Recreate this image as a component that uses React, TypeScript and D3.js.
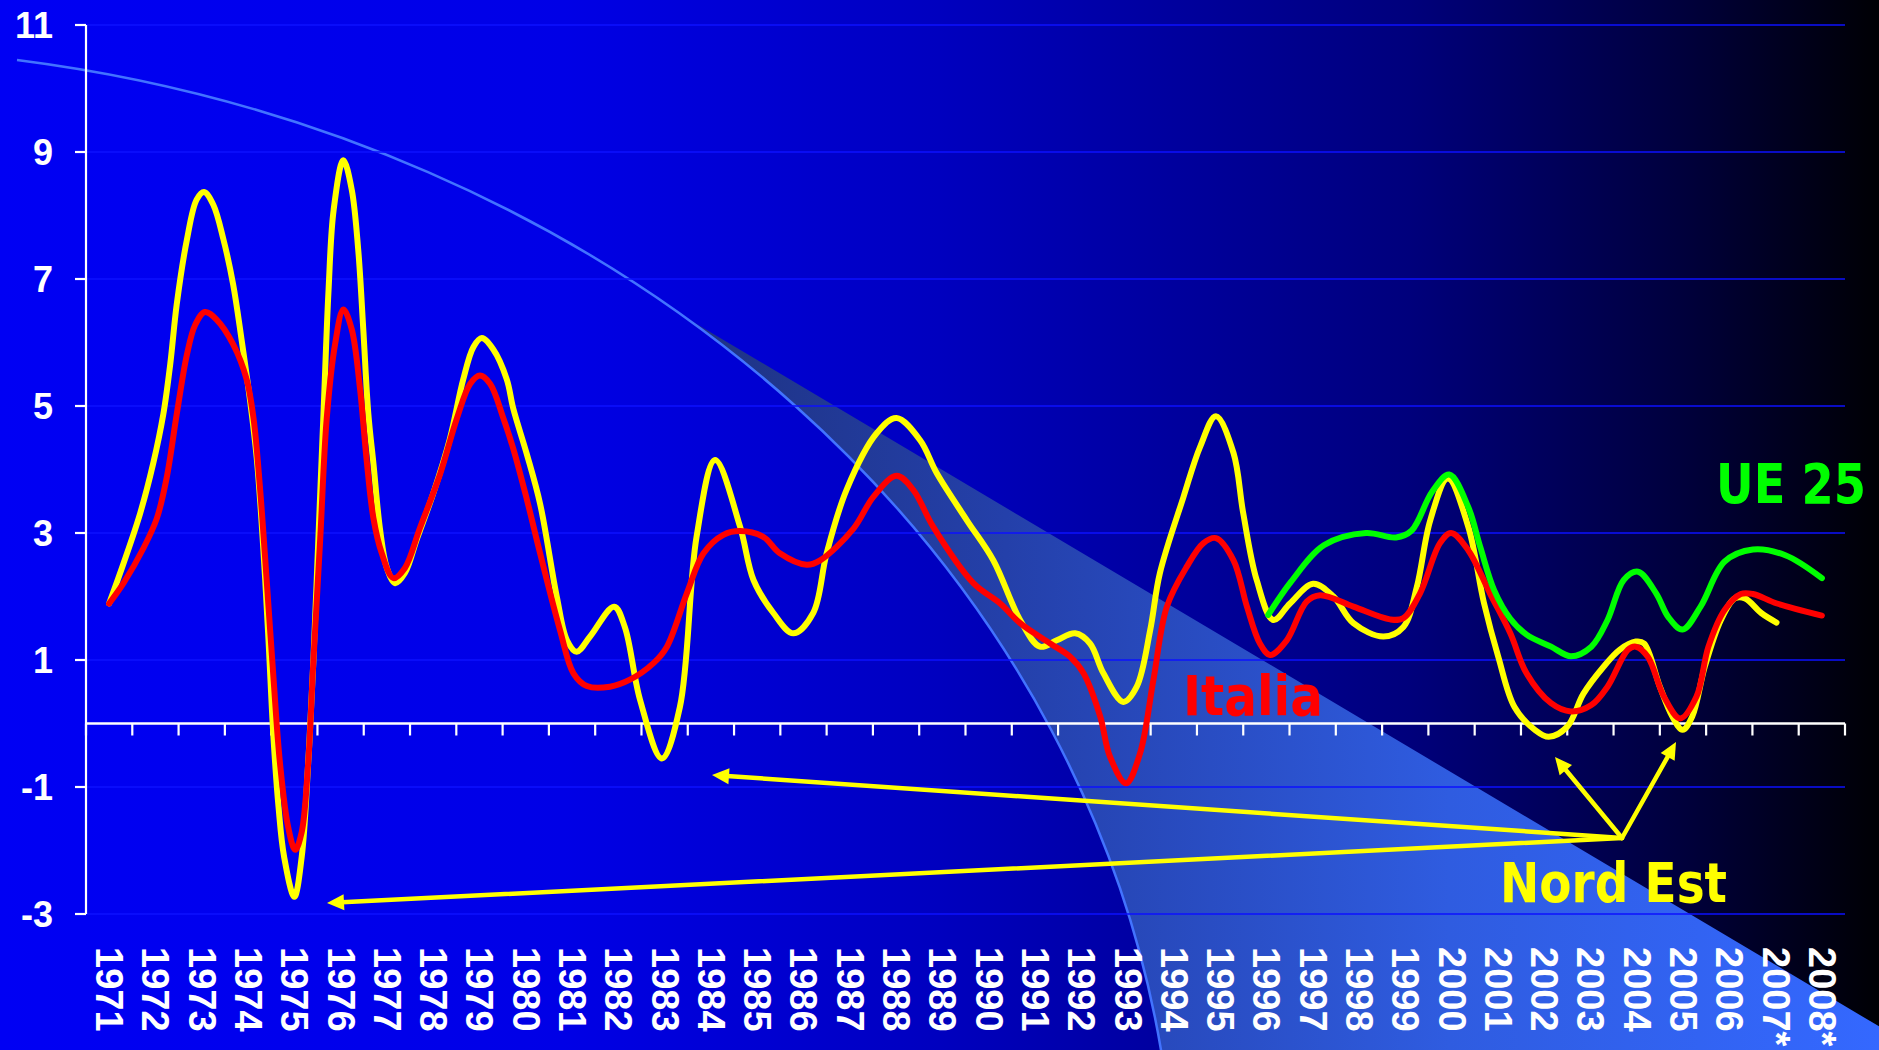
import React from "react";
import * as d3 from "d3";

// ---------- data ----------
const YEAR_LABELS = [
  "1971","1972","1973","1974","1975","1976","1977","1978","1979","1980",
  "1981","1982","1983","1984","1985","1986","1987","1988","1989","1990",
  "1991","1992","1993","1994","1995","1996","1997","1998","1999","2000",
  "2001","2002","2003","2004","2005","2006","2007*","2008*",
];
const Y_TICKS = [11, 9, 7, 5, 3, 1, -1, -3];

// [year position, % value]
const nordEst: [number, number][] = [
  [1971.0,1.89],[1971.31,2.52],[1971.67,3.31],[1971.95,4.09],[1972.17,4.87],[1972.32,5.66],
  [1972.46,6.6],[1972.68,7.62],[1972.89,8.25],[1973.05,8.37],[1973.25,8.17],[1973.47,7.62],
  [1973.68,6.91],[1973.86,6.05],[1974.04,5.11],[1974.19,4.17],[1974.33,2.76],[1974.44,1.35],
  [1974.55,-0.22],[1974.66,-1.32],[1974.78,-2.1],[1975.0,-2.73],[1975.16,-2.1],[1975.3,-0.62],
  [1975.41,0.95],[1975.52,2.91],[1975.63,4.87],[1975.74,6.83],[1975.85,8.09],[1976.06,8.87],
  [1976.24,8.41],[1976.38,7.47],[1976.49,6.21],[1976.6,4.87],[1976.71,4.09],[1976.85,3.07],
  [1977.0,2.45],[1977.18,2.21],[1977.39,2.37],[1977.65,2.91],[1978.0,3.62],[1978.36,4.48],
  [1978.65,5.42],[1978.87,5.93],[1979.05,6.07],[1979.3,5.89],[1979.59,5.42],[1979.73,4.96],
  [1980.02,4.25],[1980.31,3.46],[1980.67,2.0],[1980.89,1.31],[1981.1,1.13],[1981.39,1.37],
  [1981.91,1.84],[1982.14,1.52],[1982.47,0.37],[1982.94,-0.55],[1983.33,0.26],[1983.69,2.94],
  [1984.09,4.15],[1984.63,3.1],[1984.92,2.26],[1985.35,1.74],[1985.78,1.42],[1986.21,1.74],
  [1986.5,2.68],[1986.93,3.68],[1987.58,4.57],[1988.01,4.81],[1988.52,4.46],[1988.88,3.94],
  [1989.53,3.2],[1990.1,2.57],[1990.68,1.63],[1991.11,1.21],[1991.47,1.31],[1991.87,1.42],
  [1992.19,1.26],[1992.48,0.79],[1992.91,0.34],[1993.2,0.58],[1993.49,1.47],[1993.7,2.37],
  [1994.21,3.57],[1994.57,4.36],[1994.91,4.84],[1995.29,4.26],[1995.5,3.31],[1995.79,2.26],
  [1996.15,1.63],[1996.51,1.89],[1997.01,2.2],[1997.45,2.0],[1997.88,1.58],[1998.53,1.37],
  [1998.96,1.52],[1999.25,2.15],[1999.54,3.2],[1999.92,3.86],[2000.36,3.1],[2000.7,1.9],
  [2001.01,1.05],[2001.36,0.26],[2001.8,-0.1],[2002.1,-0.21],[2002.5,-0.05],[2002.85,0.47],
  [2003.28,0.89],[2003.63,1.16],[2003.98,1.29],[2004.16,1.26],[2004.5,0.58],[2004.77,0.11],
  [2004.99,-0.1],[2005.2,0.11],[2005.47,0.89],[2005.82,1.63],[2006.12,1.97],[2006.34,1.97],
  [2006.69,1.74],[2007.02,1.59],
];

const italia: [number, number][] = [
  [1971.0,1.89],[1971.31,2.21],[1971.74,2.76],[1972.03,3.23],[1972.24,3.86],[1972.46,4.87],
  [1972.68,5.81],[1972.86,6.28],[1973.07,6.48],[1973.32,6.36],[1973.68,5.97],[1973.97,5.42],
  [1974.12,4.8],[1974.26,3.7],[1974.4,2.29],[1974.55,0.72],[1974.69,-0.62],[1974.87,-1.64],
  [1975.02,-1.99],[1975.16,-1.71],[1975.3,-0.62],[1975.41,0.95],[1975.56,2.91],[1975.7,4.8],
  [1975.88,5.97],[1976.06,6.52],[1976.24,6.21],[1976.42,5.27],[1976.56,4.17],[1976.71,3.23],
  [1976.89,2.68],[1977.14,2.29],[1977.39,2.45],[1977.71,3.07],[1978.15,3.93],[1978.51,4.8],
  [1978.8,5.35],[1979.01,5.48],[1979.23,5.35],[1979.52,4.8],[1979.73,4.33],[1980.02,3.54],
  [1980.31,2.68],[1980.74,1.47],[1981.03,0.79],[1981.32,0.59],[1981.82,0.58],[1982.25,0.69],
  [1982.76,0.95],[1983.05,1.21],[1983.48,2.05],[1983.84,2.68],[1984.27,2.97],[1984.63,3.03],
  [1985.13,2.94],[1985.49,2.68],[1986.07,2.5],[1986.36,2.57],[1987.08,3.07],[1987.51,3.57],
  [1988.01,3.9],[1988.37,3.68],[1988.8,3.1],[1989.67,2.21],[1990.25,1.89],[1990.68,1.58],
  [1991.33,1.26],[1991.76,1.05],[1992.05,0.79],[1992.41,0.11],[1992.62,-0.52],[1992.97,-0.94],
  [1993.27,-0.47],[1993.56,0.69],[1993.85,1.84],[1994.28,2.47],[1994.64,2.84],[1994.91,2.92],
  [1995.29,2.57],[1995.58,1.84],[1995.86,1.26],[1996.08,1.08],[1996.44,1.31],[1996.87,1.92],
  [1997.16,2.02],[1997.88,1.84],[1998.67,1.64],[1998.96,1.66],[1999.32,2.05],[1999.75,2.84],
  [1999.99,3.0],[2000.36,2.73],[2000.83,2.05],[2001.27,1.42],[2001.62,0.79],[2002.15,0.32],
  [2002.58,0.19],[2003.02,0.29],[2003.37,0.58],[2003.81,1.16],[2003.98,1.21],[2004.24,1.05],
  [2004.59,0.42],[2004.94,0.08],[2005.29,0.42],[2005.55,1.21],[2005.9,1.79],[2006.25,2.04],
  [2006.51,2.04],[2007.03,1.89],[2008.0,1.7],
];

const ue25: [number, number][] = [
  [1996.04,1.71],[1996.53,2.23],[1997.25,2.81],[1998.15,3.0],[1998.8,2.93],[1999.14,3.04],
  [1999.58,3.65],[1999.95,3.92],[2000.36,3.41],[2000.62,2.78],[2000.92,2.1],[2001.27,1.65],
  [2001.62,1.4],[2002.15,1.21],[2002.58,1.06],[2003.02,1.21],[2003.37,1.63],[2003.72,2.26],
  [2004.03,2.39],[2004.42,2.05],[2004.68,1.68],[2004.99,1.48],[2005.38,1.84],[2005.9,2.55],
  [2006.51,2.74],[2007.21,2.65],[2008.0,2.29],
];

// ---------- layout ----------
const W = 1879;
const H = 1050;
const LEFT = 86;
const RIGHT = 1845;
const TOP = 25;
const BOTTOM = 914;
const FONT = "'Liberation Sans', Arial, Helvetica, sans-serif";
const FONT2 = "'DejaVu Sans', Verdana, sans-serif";

// decorative swoosh: an elliptical arc (slide ornament)
const ELL = { cx: -180, cy: 1220, rx: 1355.3, ry: 1172.5 };
const WEDGE_X0 = 683;
const WEDGE_SLOPE = 0.594;

const ARROW_ORIGIN: [number, number] = [1622, 838];
const ARROW_TIPS: [number, number][] = [
  [327, 903], [712, 775], [1555, 757], [1676, 742],
];

function ellY(px: number) {
  const dx = (px - ELL.cx) / ELL.rx;
  return ELL.cy - ELL.ry * Math.sqrt(Math.max(0, 1 - dx * dx));
}
function ellX(py: number) {
  const dy = (py - ELL.cy) / ELL.ry;
  return ELL.cx + ELL.rx * Math.sqrt(Math.max(0, 1 - dy * dy));
}

export default function App() {
  const x = d3.scaleLinear().domain([1970.5, 2008.5]).range([LEFT, RIGHT]);
  const band = d3.scaleBand<string>().domain(YEAR_LABELS).range([LEFT, RIGHT]);
  const y = d3.scaleLinear().domain([-3, 11]).range([BOTTOM, TOP]);

  const line = d3
    .line<[number, number]>()
    .x((d) => x(d[0]))
    .y((d) => y(d[1]))
    .curve(d3.curveCatmullRom.alpha(0.5));

  const sx = 17;
  const sy = ellY(sx);
  const endY = H + 40;
  const ex = ellX(endY);
  const swooshPath = `M${sx},${sy} A${ELL.rx},${ELL.ry} 0 0 1 ${ex},${endY}`;
  const wy0 = ellY(WEDGE_X0);
  const rightY = wy0 + WEDGE_SLOPE * (W - WEDGE_X0);
  const wedgePath = `M${WEDGE_X0},${wy0} A${ELL.rx},${ELL.ry} 0 0 1 ${ex},${endY} L${W + 5},${endY} L${W + 5},${rightY + 5 * WEDGE_SLOPE} Z`;

  const bandBounds = d3.range(0, YEAR_LABELS.length + 1).map((i) => LEFT + i * band.step());

  const arrow = (tip: [number, number], i: number) => {
    const [ox, oy] = ARROW_ORIGIN;
    const dx = tip[0] - ox;
    const dy = tip[1] - oy;
    const len = Math.hypot(dx, dy);
    const ux = dx / len;
    const uy = dy / len;
    const hl = 17;
    const hw = 8;
    const bx = tip[0] - ux * hl;
    const by = tip[1] - uy * hl;
    const p1 = [bx - uy * hw, by + ux * hw];
    const p2 = [bx + uy * hw, by - ux * hw];
    return (
      <g key={i}>
        <line x1={ox} y1={oy} x2={bx + ux * 2} y2={by + uy * 2} stroke="#ffff00" strokeWidth={4.5} strokeLinecap="round" />
        <polygon points={`${tip[0]},${tip[1]} ${p1[0]},${p1[1]} ${p2[0]},${p2[1]}`} fill="#ffff00" />
      </g>
    );
  };

  return (
    <div style={{ position: "absolute", left: 0, top: 0, width: W, height: H, overflow: "hidden" }}>
      <style>{`body{margin:0;overflow:hidden;}`}</style>
      <svg width={W} height={H} viewBox={`0 0 ${W} ${H}`} style={{ display: "block" }}>
        <defs>
          <linearGradient id="bg" x1="0" y1="0" x2="1" y2="0">
            <stop offset="0" stopColor="#0000f4" />
            <stop offset="0.3" stopColor="#0000e6" />
            <stop offset="0.5" stopColor="#0000bf" />
            <stop offset="0.75" stopColor="#00007c" />
            <stop offset="0.9" stopColor="#00003a" />
            <stop offset="1" stopColor="#000004" />
          </linearGradient>
          <linearGradient id="wedge" gradientUnits="userSpaceOnUse" x1={WEDGE_X0} y1="0" x2={W} y2="0">
            <stop offset="0" stopColor="#1e3282" />
            <stop offset="0.27" stopColor="#2440aa" />
            <stop offset="0.64" stopColor="#2f5ce0" />
            <stop offset="1" stopColor="#3468ff" />
          </linearGradient>
        </defs>

        <rect x={0} y={0} width={W} height={H} fill="url(#bg)" />
        <path d={wedgePath} fill="url(#wedge)" />
        <path d={swooshPath} fill="none" stroke="#4273ff" strokeWidth={2.5} />

        {/* gridlines */}
        {Y_TICKS.map((t) => (
          <line key={t} x1={LEFT} x2={RIGHT} y1={y(t)} y2={y(t)} stroke="#0c10ff" strokeWidth={1.6} />
        ))}

        {/* y axis */}
        <line x1={LEFT} x2={LEFT} y1={y(11)} y2={y(-3)} stroke="#ffffff" strokeWidth={2.2} />
        {Y_TICKS.map((t) => (
          <g key={`yt${t}`}>
            <line x1={LEFT - 11} x2={LEFT} y1={y(t)} y2={y(t)} stroke="#ffffff" strokeWidth={2.2} />
            <text
              x={53}
              y={y(t)}
              textAnchor="end"
              dominantBaseline="central"
              fill="#ffffff"
              fontFamily={FONT}
              fontWeight="bold"
              fontSize={36}
            >
              {t}
            </text>
          </g>
        ))}

        {/* x axis at zero */}
        <line x1={LEFT} x2={RIGHT} y1={y(0)} y2={y(0)} stroke="#ffffff" strokeWidth={2.5} />
        {bandBounds.map((bx, i) => (
          <line key={`xt${i}`} x1={bx} x2={bx} y1={y(0)} y2={y(0) + 12} stroke="#ffffff" strokeWidth={2.2} />
        ))}
        {YEAR_LABELS.map((lab) => {
          const cx = (band(lab) || 0) + band.bandwidth() / 2;
          return (
            <text
              key={lab}
              transform={`translate(${cx},947) rotate(90)`}
              textAnchor="start"
              dominantBaseline="central"
              fill="#ffffff"
              fontFamily={FONT}
              fontWeight="bold"
              fontSize={38}
            >
              {lab}
            </text>
          );
        })}

        {/* series */}
        <path d={line(nordEst) || ""} fill="none" stroke="#ffff00" strokeWidth={6} strokeLinejoin="round" strokeLinecap="round" />
        <path d={line(italia) || ""} fill="none" stroke="#ff0000" strokeWidth={6} strokeLinejoin="round" strokeLinecap="round" />
        <path d={line(ue25) || ""} fill="none" stroke="#00ff00" strokeWidth={6} strokeLinejoin="round" strokeLinecap="round" />

        {/* annotations */}
        {ARROW_TIPS.map((t, i) => arrow(t, i))}
        <text x={1716} y={503} fill="#00ff00" fontFamily={FONT2} fontWeight="bold" fontSize={55} textLength={150} lengthAdjust="spacingAndGlyphs">
          UE 25
        </text>
        <text x={1183} y={715} fill="#ff0000" fontFamily={FONT2} fontWeight="bold" fontSize={55} textLength={140} lengthAdjust="spacingAndGlyphs">
          Italia
        </text>
        <text x={1500} y={902} fill="#ffff00" fontFamily={FONT2} fontWeight="bold" fontSize={55} textLength={227} lengthAdjust="spacingAndGlyphs">
          Nord Est
        </text>
      </svg>
    </div>
  );
}
